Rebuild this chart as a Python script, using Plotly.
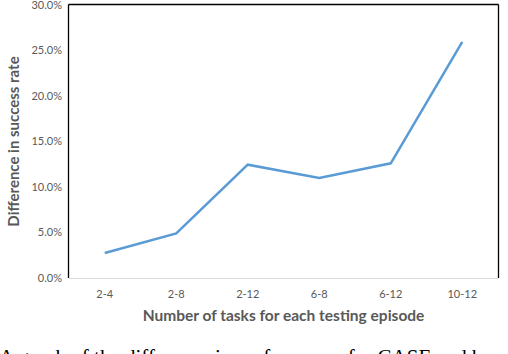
import plotly.graph_objects as go

categories = ["2-4", "2-8", "2-12", "6-8", "6-12", "10-12"]
diff_values = [0.0275, 0.049, 0.1245, 0.110, 0.126, 0.2595]
y_ticks = [0, 0.05, 0.10, 0.15, 0.20, 0.25, 0.30]
y_tick_text = ["0.0%", "5.0%", "10.0%", "15.0%", "20.0%", "25.0%", "30.0%"]

W, H = 508, 354
L, R, T, B = 69, 10, 5, 76
gray = "#595959"
font_main = "Lato, Open Sans, sans-serif"

fig = go.Figure()
fig.add_trace(go.Scatter(
    x=categories, y=diff_values, mode="lines",
    line=dict(color="#5B9BD5", width=2.5),
))

fig.update_layout(
    width=W, height=H,
    margin=dict(l=L, r=R, t=T, b=B, autoexpand=False),
    paper_bgcolor="white", plot_bgcolor="white",
    showlegend=False,
    xaxis=dict(
        type="category", range=[-0.5, 5.5], automargin=False,
        showgrid=False, zeroline=False,
        showline=True, linecolor="#d9d9d9", linewidth=1,
        ticks="", tickfont=dict(family=font_main, size=11, color=gray),
        ticklabelstandoff=6,
        title=dict(text="<b>Number of tasks for each testing episode</b>",
                   font=dict(family=font_main, size=15.5, color=gray), standoff=10),
    ),
    yaxis=dict(
        range=[0, 0.30], tickvals=y_ticks, ticktext=y_tick_text, automargin=False,
        showgrid=False, zeroline=False, showline=False,
        ticks="", ticklabeloverflow="allow",
        tickfont=dict(family=font_main, size=11, color=gray),
        ticklabelstandoff=6,
        title=dict(text="<b>Difference in success rate</b>",
                   font=dict(family=font_main, size=15, color=gray), standoff=8),
    ),
)

# chart frame: left, top, right borders
pw = W - L - R
ph = H - T - B
fx0 = -0.5 / pw
fx1 = 1 + 0.5 / pw
fy1 = 1 + 0.5 / ph
for x0, y0, x1, y1 in [(fx0, 0, fx0, fy1), (fx0, fy1, fx1, fy1), (fx1, 0, fx1, fy1)]:
    fig.add_shape(type="line", xref="paper", yref="paper",
                  x0=x0, y0=y0, x1=x1, y1=y1, layer="above",
                  line=dict(color="black", width=1.3))

fig.add_annotation(
    text="A graph of the difference in performance for CASE and b",
    xref="paper", yref="paper",
    x=(-3 - L) / pw, y=-(343 - (H - B)) / ph,
    xanchor="left", yanchor="top", showarrow=False,
    font=dict(family="Liberation Serif, serif", size=21, color="black"),
)

fig.write_html("out.html", config={"displayModeBar": False},
               post_script="document.body.style.margin='0';")
